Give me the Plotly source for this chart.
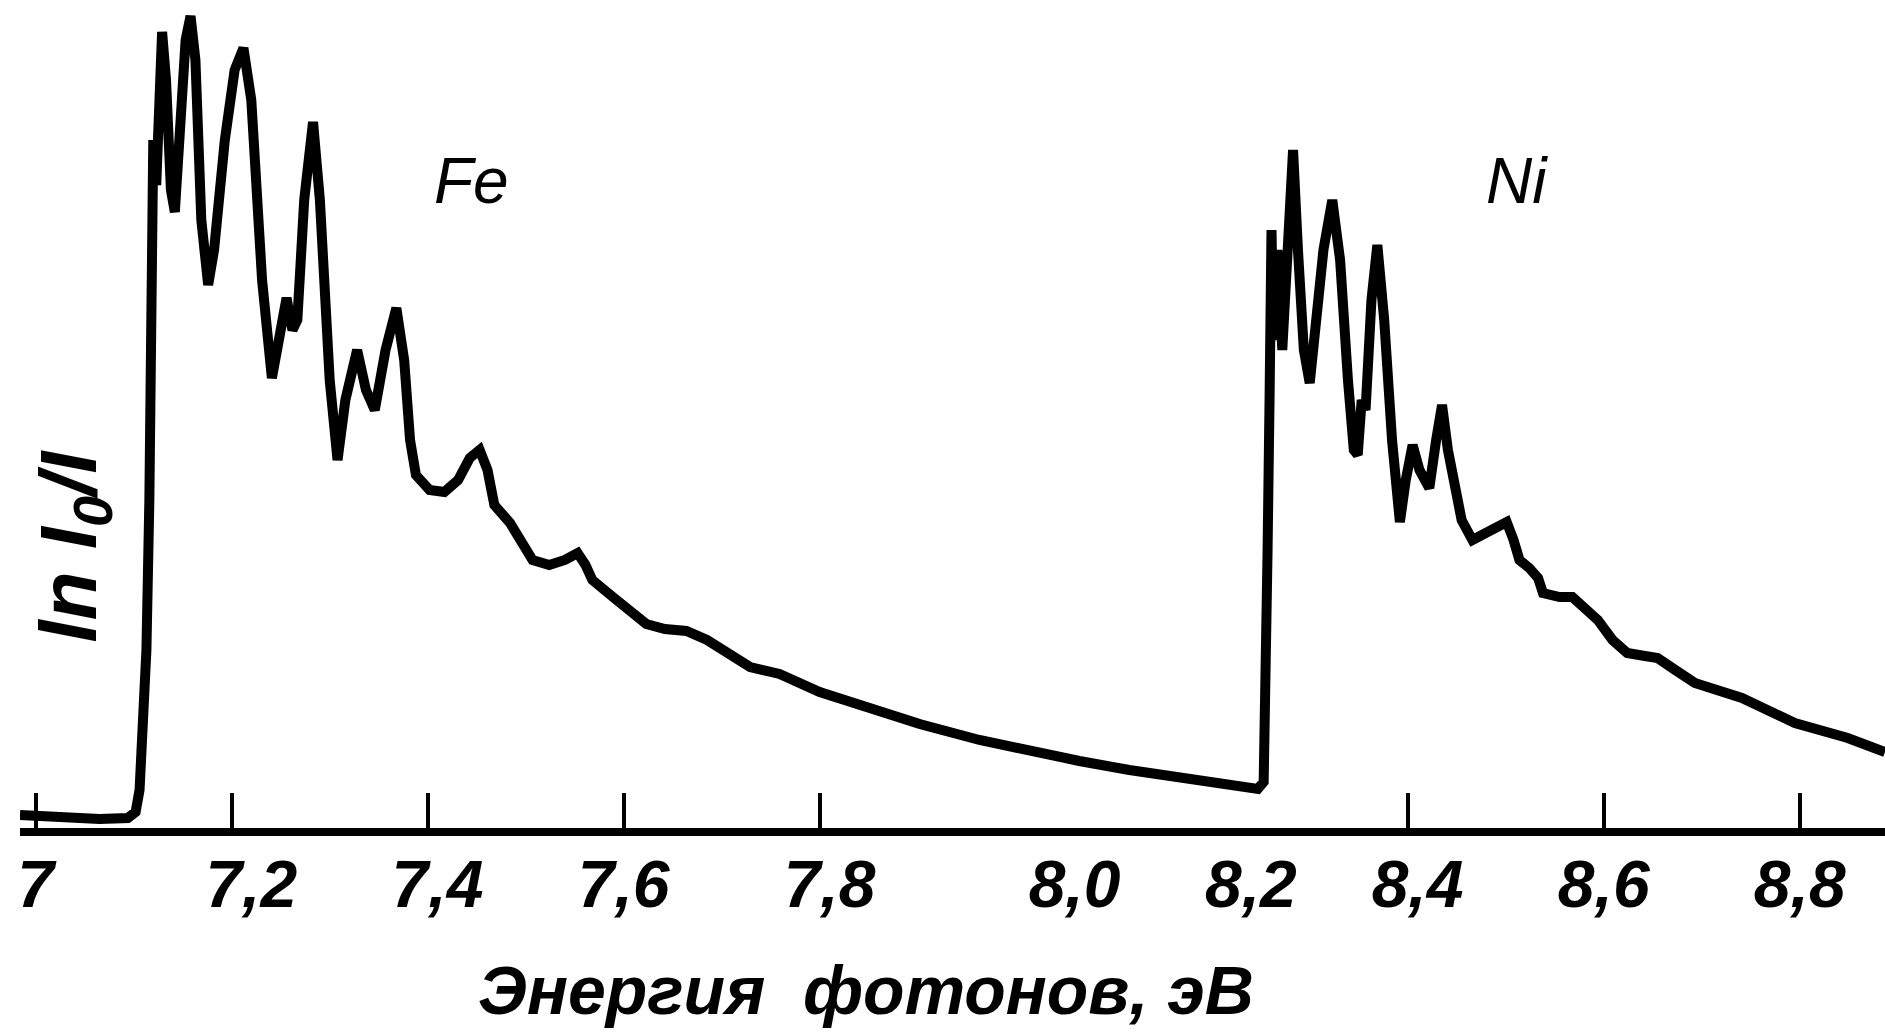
import plotly.graph_objects as go

# Fe K-edge segment (photon energy, ln I0/I in arbitrary units)
fe_energy = [6.984, 7.024, 7.065, 7.094, 7.102, 7.106, 7.109, 7.113, 7.116, 7.118,
             7.119, 7.120, 7.123, 7.127, 7.129, 7.133, 7.138, 7.142, 7.147, 7.153,
             7.158, 7.163, 7.169, 7.176, 7.182, 7.193, 7.203, 7.212, 7.220, 7.231,
             7.241, 7.249, 7.256, 7.262, 7.267, 7.274, 7.283, 7.290, 7.300, 7.308,
             7.316, 7.328, 7.337, 7.346, 7.357, 7.368, 7.376, 7.382, 7.388, 7.402,
             7.417, 7.431, 7.443, 7.453, 7.461, 7.468, 7.484, 7.507, 7.524, 7.540,
             7.553, 7.561, 7.568, 7.589, 7.623, 7.642, 7.664, 7.685, 7.708, 7.729,
             7.759, 7.800, 7.851, 7.902, 7.963, 8.014, 8.065, 8.116, 8.167, 8.218,
             8.247]
fe_absorb = [0.13, 0.10, 0.09, 0.10, 0.16, 0.38, 0.88, 1.78, 3.28, 5.28,
             6.38, 6.88, 6.43, 7.28, 7.96, 7.48, 6.38, 6.16, 6.98, 7.88,
             8.12, 7.68, 6.08, 5.43, 5.78, 6.88, 7.58, 7.80, 7.28, 5.48,
             4.50, 4.98, 5.30, 4.98, 5.08, 6.28, 7.06, 6.28, 4.48, 3.68,
             4.28, 4.78, 4.38, 4.18, 4.78, 5.20, 4.68, 3.88, 3.53, 3.38,
             3.36, 3.48, 3.70, 3.78, 3.58, 3.23, 3.05, 2.68, 2.63, 2.68,
             2.75, 2.63, 2.48, 2.31, 2.04, 1.99, 1.97, 1.88, 1.73, 1.61,
             1.54, 1.36, 1.20, 1.04, 0.88, 0.77, 0.67, 0.58, 0.51, 0.44,
             0.39]

# Ni K-edge segment
ni_energy = [8.253, 8.255, 8.257, 8.259, 8.260, 8.261, 8.263, 8.267, 8.272, 8.278,
             8.283, 8.288, 8.294, 8.300, 8.306, 8.314, 8.323, 8.331, 8.339, 8.345,
             8.349, 8.353, 8.357, 8.363, 8.369, 8.376, 8.384, 8.392, 8.398, 8.405,
             8.412, 8.422, 8.429, 8.435, 8.441, 8.448, 8.455, 8.466, 8.484, 8.501,
             8.508, 8.514, 8.524, 8.533, 8.538, 8.555, 8.568, 8.594, 8.609, 8.624,
             8.642, 8.655, 8.673, 8.693, 8.741, 8.795, 8.849, 8.887]
ni_absorb = [0.46, 1.28, 2.78, 4.28, 5.28, 5.98, 4.88, 5.78, 4.78, 5.98,
             6.78, 5.78, 4.78, 4.45, 4.98, 5.78, 6.28, 5.68, 4.48, 3.78,
             3.73, 4.28, 4.18, 5.28, 5.83, 5.08, 3.88, 3.06, 3.48, 3.83,
             3.58, 3.40, 3.88, 4.23, 3.78, 3.38, 3.08, 2.88, 2.98, 3.06,
             2.88, 2.68, 2.60, 2.50, 2.35, 2.31, 2.31, 2.08, 1.88, 1.75,
             1.72, 1.70, 1.58, 1.45, 1.30, 1.05, 0.90, 0.76]

tick_marks = [7.0, 7.2, 7.4, 7.6, 7.8, 8.4, 8.6, 8.8]
label_positions = [7.0, 7.22, 7.41, 7.6, 7.81, 8.06, 8.24, 8.41, 8.6, 8.8]
tick_labels = ["7", "7,2", "7,4", "7,6", "7,8", "8,0", "8,2", "8,4", "8,6", "8,8"]

x_range = [6.984, 8.887]
y_range = [0, 8.28]

FONT = "Liberation Sans Narrow, Liberation Sans, Arial, sans-serif"

fig = go.Figure()
fig.add_trace(go.Scatter(
    x=fe_energy + ni_energy, y=fe_absorb + ni_absorb,
    mode="lines", line=dict(color="black", width=10),
    showlegend=False, hoverinfo="skip"))
# helper (empty) trace so that the label axis is drawn
fig.add_trace(go.Scatter(x=[], y=[], xaxis="x2", showlegend=False))

fig.update_layout(
    width=1885, height=1035,
    margin=dict(l=20, r=0, t=0, b=207),
    paper_bgcolor="white", plot_bgcolor="white",
    font=dict(family=FONT, color="black"),
    xaxis=dict(range=x_range, showgrid=False, zeroline=False,
               showline=True, linecolor="black", linewidth=8,
               ticks="inside", ticklen=35, tickwidth=4, tickcolor="black",
               tickvals=tick_marks, showticklabels=False),
    xaxis2=dict(range=x_range, matches="x", overlaying="x", anchor="y", side="bottom",
                showgrid=False, zeroline=False, showline=False, ticks="",
                tickvals=label_positions, ticktext=tick_labels,
                ticklabelstandoff=12,
                tickfont=dict(family=FONT, size=66, style="italic", weight="bold",
                              color="black")),
    yaxis=dict(range=y_range, visible=False, showgrid=False, zeroline=False),
)

fig.add_annotation(x=7.445, y=6.47, xref="x", yref="y", text="Fe", showarrow=False,
                   font=dict(family=FONT, size=64, style="italic", color="black"))
fig.add_annotation(x=8.512, y=6.47, xref="x", yref="y", text="Ni", showarrow=False,
                   font=dict(family=FONT, size=64, style="italic", color="black"))
fig.add_annotation(x=0.029, y=0.34, xref="paper", yref="paper",
                   text="ln I<sub>0</sub>/I", textangle=-90, showarrow=False,
                   xanchor="center", yanchor="middle",
                   font=dict(family=FONT, size=80, style="italic", weight="bold",
                             color="black"))
fig.add_annotation(x=0.4536, y=-0.196, xref="paper", yref="paper",
                   text="Энергия  фотонов, эВ", showarrow=False,
                   xanchor="center", yanchor="middle",
                   font=dict(family=FONT, size=68, style="italic", weight="bold",
                             color="black"))

fig.write_html("out.html")
